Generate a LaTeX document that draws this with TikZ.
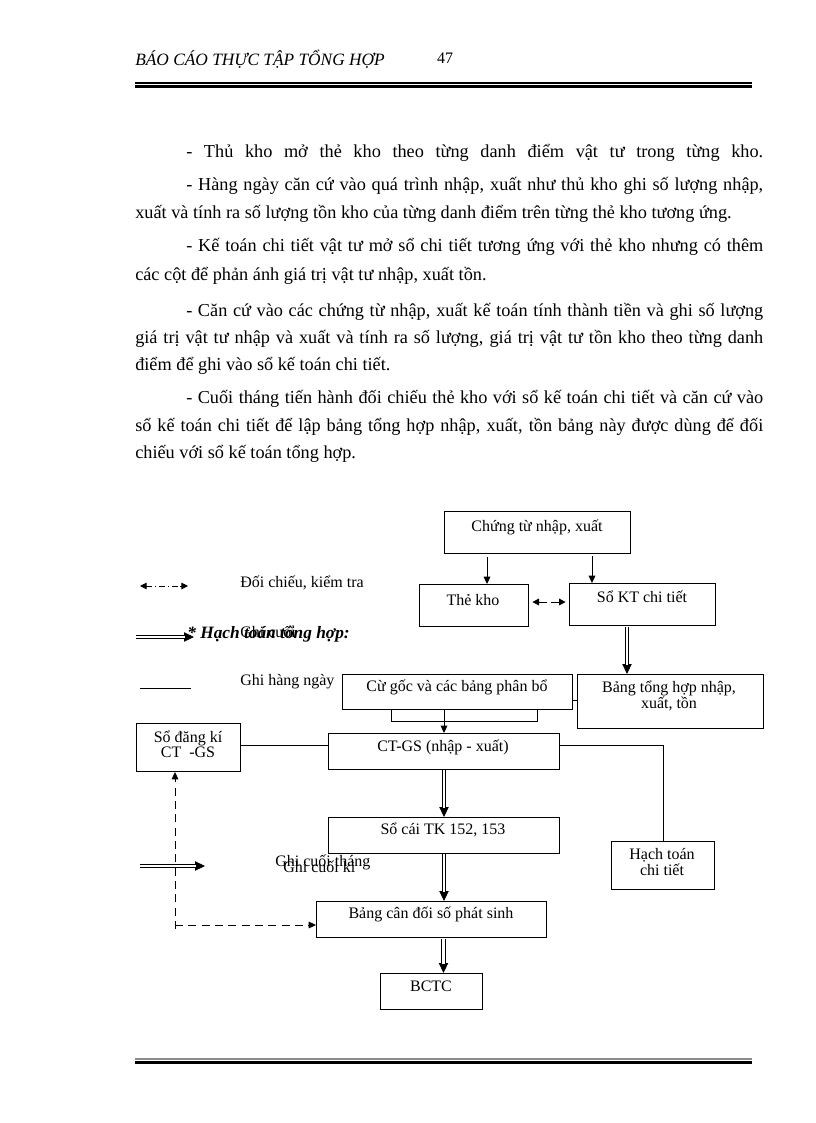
\documentclass[tikz,border=0pt]{standalone}
\usepackage{fontspec}
\setmainfont{Liberation Serif}
\usetikzlibrary{arrows.meta,calc}
\newcommand\jline[1]{\makebox[432.75pt][s]{#1}}
\newcommand\fline[1]{\makebox[471pt][s]{#1}}
\newcommand\bx[5]{\node[box, minimum width={(#4-#2)*0.75pt}, minimum height={(#5-#3)*0.75pt}] (#1) at (#2,#3) {};}
\newcommand\dblar[2]{\draw[tipline] (#1) -- (#2); \draw[dblline] (#1) -- (#2);}
\tikzset{
  body/.style={anchor=base west, inner sep=0pt, font=\fontsize{13.7pt}{16pt}\selectfont},
  box/.style={draw, line width=0.75pt, inner sep=0pt, anchor=north west},
  lbl/.style={inner sep=0pt, align=center, font=\fontsize{12pt}{10.5pt}\selectfont},
  ln/.style={line width=0.75pt},
  arr/.style={line width=0.75pt, -{Triangle[length=5.5pt,width=5pt]}},
  tipline/.style={line width=0.6pt, -{Triangle[length=7.5pt,width=7pt]}},
  dblline/.style={double, double distance=2pt, line width=0.6pt, shorten >=7pt},
  dsh/.style={line width=0.7pt, dash pattern=on 6pt off 4pt, -{Triangle[length=5.5pt,width=5pt]}},
  ddot/.style={line width=0.7pt, dash pattern=on 4.5pt off 2pt on 1pt off 2pt, {Triangle[length=5pt,width=5pt]}-{Triangle[length=5pt,width=5pt]}},
  dd/.style={line width=0.7pt, dash pattern=on 6pt off 3pt, {Triangle[length=5pt,width=5pt]}-{Triangle[length=5pt,width=5pt]}}
}
\begin{document}
\begin{tikzpicture}[x=0.75pt,y=-0.75pt]
\fill[white] (0,0) rectangle (816,1123);
\useasboundingbox (0,0) rectangle (816,1123);

% header
\node[anchor=west, inner sep=0pt, font=\fontsize{13pt}{15pt}\selectfont\itshape] (hd) at (135,59) {BÁO CÁO THỰC TẬP TỔNG HỢP};
\node[inner sep=0pt, font=\fontsize{12pt}{14pt}\selectfont] (pg) at (445,58) {47};
\coordinate (h1) at (135,83); \coordinate (h2) at (752,83);
\coordinate (h3) at (135,86.5); \coordinate (h4) at (752,86.5);
\draw[line width=1pt] (h1) -- (h2);
\draw[line width=2.4pt] (h3) -- (h4);

% body text
\node[body] (p1) at (186,158) {\jline{- Thủ kho mở thẻ kho theo từng danh điểm vật tư trong từng kho.}};
\node[body] (p2) at (186,191) {\jline{- Hàng ngày căn cứ vào quá trình nhập, xuất như thủ kho ghi số lượng nhập,}};
\node[body] (p3) at (135,219) {xuất và tính ra số lượng tồn kho của từng danh điểm trên từng thẻ kho tương ứng.};
\node[body] (p4) at (186,252) {\jline{- Kế toán chi tiết vật tư mở sổ chi tiết tương ứng với thẻ kho nhưng có thêm}};
\node[body] (p5) at (135,280) {các cột để phản ánh giá trị vật tư nhập, xuất tồn.};
\node[body] (p6) at (186,316) {\jline{- Căn cứ vào các chứng từ nhập, xuất kế toán tính thành tiền và ghi số lượng}};
\node[body] (p7) at (135,343) {\fline{giá trị vật tư nhập và xuất và tính ra số lượng, giá trị vật tư tồn kho theo từng danh}};
\node[body] (p8) at (135,370) {điểm để ghi vào sổ kế toán chi tiết.};
\node[body] (p9) at (186,403) {\jline{- Cuối tháng tiến hành đối chiếu thẻ kho với sổ kế toán chi tiết và căn cứ vào}};
\node[body] (p10) at (135,431) {\fline{sổ kế toán chi tiết để lập bảng tổng hợp nhập, xuất, tồn bảng này được dùng để đối}};
\node[body] (p11) at (135,458) {chiếu với sổ kế toán tổng hợp.};

% boxes
\bx{ct}{444}{511}{630}{553}
\bx{tk}{419}{584}{528}{626}
\bx{skt}{569}{583}{715}{625}
\bx{cg}{342}{674}{572}{709}
\bx{bth}{577}{674}{763}{728}
\bx{sdk}{136}{723}{240}{771}
\bx{ctgs}{328}{733}{559}{769}
\bx{sc}{328}{817}{559}{853}
\bx{htct}{611}{841}{714}{889}
\bx{bcd}{316}{901}{546}{937}
\bx{bctc}{380}{973}{482}{1009}

% box texts
\node[lbl] (ct-t) at (537,527) {Chứng từ nhập, xuất};
\node[lbl] (tk-t) at (473,600) {Thẻ kho};
\node[lbl] (skt-t) at (642,597) {Sổ KT chi tiết};
\node[lbl] (cg-t) at (457,687) {Cừ gốc và các bảng phân bổ};
\node[lbl] (bth-t) at (669,696) {Bảng tổng hợp nhập,\\xuất, tồn};
\node[lbl] (sdk-t) at (188,744) {Sổ đăng kí\\CT\ \ -GS};
\node[lbl] (ctgs-t) at (443,747) {CT-GS (nhập - xuất)};
\node[lbl] (sc-t) at (443,830) {Sổ cái TK 152, 153};
\node[lbl] (htct-t) at (662,862) {Hạch toán\\chi tiết};
\node[lbl] (bcd-t) at (431,914) {Bảng cân đối số phát sinh};
\node[lbl] (bctc-t) at (431,986) {BCTC};

% connectors
\coordinate (a1) at (487,557);
\coordinate (a2) at (592,556);
\draw[arr] (a1) -- (a1 |- tk.north);
\draw[arr] (a2) -- (a2 |- skt.north);
\coordinate (d1) at (0,602);
\draw[dd, shorten <=2.5pt, shorten >=2.5pt] (tk.east |- d1) -- (skt.west |- d1);
\coordinate (a3) at (627,627);
\dblar{a3}{a3 |- bth.north}
\coordinate (b1) at (391,721); \coordinate (b2) at (537,721);
\draw[ln] (b1 |- cg.south) -- (b1) -- (b2) -- (b2 |- cg.south);
\draw[arr] (cg.south -| ctgs.north) -- (ctgs.north);
\coordinate (t1) at (0,700);
\draw[ln] (cg.east |- t1) -- (bth.west |- t1);
\coordinate (l1) at (0,745);
\draw[ln] (sdk.east |- l1) -- (ctgs.west |- l1);
\draw[ln] (ctgs.east |- l1) -| (htct.north);
\dblar{ctgs.south}{sc.north}
\dblar{sc.south}{sc.south |- bcd.north}
\coordinate (e1) at (443.5,939);
\dblar{e1}{e1 |- bctc.north}
\coordinate (c0) at (175,929);
\coordinate (c1) at (175,925);
\draw[dsh] (c0) -- (c0 |- sdk.south);
\draw[dsh] (c1) -- (bcd.west |- c1);

% legend
\coordinate (l1a) at (140,586); \coordinate (l1b) at (188,586);
\draw[ddot] (l1a) -- (l1b);
\node[lbl, anchor=west] (lg1) at (240,583) {Đối chiếu, kiểm tra};
\coordinate (l2a) at (136,637); \coordinate (l2b) at (194,637);
\dblar{l2a}{l2b}
\node[lbl, anchor=west] (lg2) at (240,632) {Ghi cuối};
\node[anchor=west, inner sep=0pt, font=\fontsize{13pt}{15pt}\selectfont\bfseries\itshape] (hth) at (187,634) {* Hạch toán tổng hợp:};
\coordinate (l3a) at (140,688); \coordinate (l3b) at (191,688);
\draw[ln] (l3a) -- (l3b);
\node[lbl, anchor=west] (lg3) at (240,682) {Ghi hàng ngày};
\coordinate (l4a) at (140,866); \coordinate (l4b) at (205,866);
\dblar{l4a}{l4b}
\node[lbl, anchor=west] (lg4) at (275,862) {Ghi cuối tháng};
\node[lbl, anchor=west] (lg5) at (283,867) {Ghi cuối kì};

% footer
\coordinate (f1) at (135,1059); \coordinate (f2) at (752,1059);
\coordinate (f3) at (135,1062.5); \coordinate (f4) at (752,1062.5);
\draw[line width=0.9pt, black!45] (f1) -- (f2);
\draw[line width=2.2pt] (f3) -- (f4);
\end{tikzpicture}
\end{document}
